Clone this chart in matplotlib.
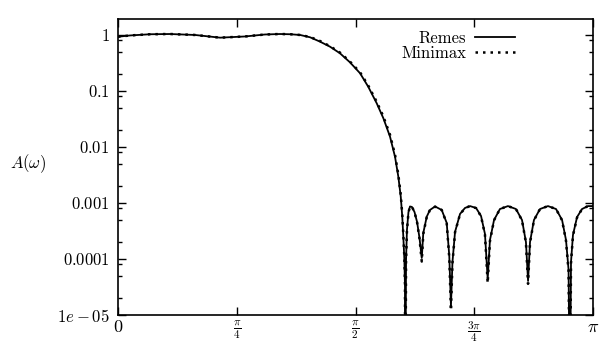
import numpy as np
import matplotlib
matplotlib.use("Agg")
import matplotlib.pyplot as plt
from matplotlib.ticker import FixedLocator, NullFormatter

plt.rcParams['mathtext.fontset'] = 'cm'
plt.rcParams['font.family'] = ['cmr10', 'DejaVu Serif']
plt.rcParams['axes.formatter.use_mathtext'] = True

# ---- data (omega in rad, amplitude) ----
omega = [0.000, 0.079, 0.212, 0.344, 0.509, 0.675, 0.840, 0.972, 1.071, 1.140, 1.204,
         1.270, 1.336, 1.402, 1.468, 1.534, 1.601, 1.655, 1.711, 1.755, 1.799,
         1.832, 1.854, 1.870, 1.880, 1.887, 1.894, 1.898, 1.900,
         1.905, 1.911, 1.921, 1.931, 1.944, 1.961, 1.978, 1.994, 2.009,
         2.019, 2.042, 2.063, 2.097, 2.141, 2.174, 2.191, 2.202,
         2.212, 2.229, 2.262, 2.295, 2.328, 2.368, 2.401, 2.427, 2.445,
         2.460, 2.487, 2.526, 2.579, 2.632, 2.672, 2.698, 2.712,
         2.725, 2.751, 2.791, 2.844, 2.897, 2.937, 2.963, 2.980, 2.989,
         2.996, 3.009, 3.036, 3.069, 3.108, 3.1416]

remes = [0.93, 0.98, 1.03, 1.04, 1.00, 0.895, 0.94, 1.02, 1.04, 1.03, 1.00,
         0.91, 0.76, 0.618, 0.471, 0.325, 0.207, 0.119, 0.0603, 0.0326, 0.0153,
         0.0067, 0.00295, 0.0013, 5.7e-4, 2.5e-4, 9.6e-5, 3.2e-5, 1e-7,
         9.6e-5, 3.3e-4, 6.9e-4, 8.66e-4, 8.5e-4, 6.9e-4, 4.58e-4, 2.37e-4, 1.04e-4,
         2.91e-4, 5.7e-4, 7.5e-4, 8.66e-4, 7.5e-4, 4.4e-4, 1.13e-4, 1.45e-5,
         8.8e-5, 3.03e-4, 6.37e-4, 8.15e-4, 8.8e-4, 8.15e-4, 5.86e-4, 2.8e-4, 4.4e-5,
         2.18e-4, 4.97e-4, 7.8e-4, 8.8e-4, 7.8e-4, 4.97e-4, 2.01e-4, 4.05e-5,
         2.01e-4, 4.97e-4, 7.8e-4, 8.8e-4, 7.8e-4, 4.97e-4, 2.18e-4, 6.4e-5, 1e-7,
         8.8e-5, 2.68e-4, 5.6e-4, 7.8e-4, 8.8e-4, 8.8e-4]

minimax = [0.93, 0.98, 1.03, 1.04, 1.00, 0.895, 0.94, 1.02, 1.04, 1.03, 1.00,
           0.92, 0.78, 0.63, 0.485, 0.335, 0.215, 0.125, 0.064, 0.035, 0.0165,
           0.0073, 0.0032, 0.0014, 6.2e-4, 2.7e-4, 1.05e-4, 3.5e-5, 1e-7,
           9.0e-5, 3.2e-4, 6.8e-4, 8.6e-4, 8.5e-4, 6.9e-4, 4.5e-4, 2.3e-4, 9.0e-5,
           2.8e-4, 5.6e-4, 7.5e-4, 8.6e-4, 7.5e-4, 4.3e-4, 1.05e-4, 1.2e-5,
           8.4e-5, 3.0e-4, 6.3e-4, 8.1e-4, 8.8e-4, 8.1e-4, 5.8e-4, 2.7e-4, 3.7e-5,
           2.1e-4, 4.9e-4, 7.8e-4, 8.8e-4, 7.8e-4, 4.9e-4, 1.95e-4, 3.6e-5,
           1.95e-4, 4.9e-4, 7.8e-4, 8.8e-4, 7.8e-4, 4.9e-4, 2.1e-4, 6.0e-5, 1e-7,
           8.4e-5, 2.6e-4, 5.5e-4, 7.8e-4, 8.8e-4, 8.8e-4]

xtick_vals = [0, np.pi / 4, np.pi / 2, 3 * np.pi / 4, np.pi]
xtick_labels = [r'$0$', r'$\frac{\pi}{4}$', r'$\frac{\pi}{2}$', r'$\frac{3\pi}{4}$', r'$\pi$']
ytick_vals = [1e-5, 1e-4, 1e-3, 1e-2, 1e-1, 1]
ytick_labels = [r'$1e-05$', r'$0.0001$', r'$0.001$', r'$0.01$', r'$0.1$', r'$1$']

fig = plt.figure(figsize=(6.04, 3.45), dpi=100)
ax = fig.add_axes([0.1954, 0.087, 0.7864, 0.858])

ax.plot(omega, remes, color='black', lw=1.3, label='Remes')
ax.plot(omega, minimax, color='black', lw=1.8, linestyle=(0, (1, 2.0)), label='Minimax')

ax.set_yscale('log')
ax.set_xlim(0, np.pi)

ax.set_xticks(xtick_vals)
ax.set_xticklabels(xtick_labels, fontsize=11.5)
for lbl in ax.get_xticklabels():
    if lbl.get_text() in (r'$0$', r'$\pi$'):
        lbl.set_fontsize(13)
ax.yaxis.set_major_locator(FixedLocator(ytick_vals))
ax.set_yticklabels(ytick_labels, fontsize=12)
minor = [m * 10.0 ** e for e in range(-6, 1) for m in (2, 5, 8)]
ax.yaxis.set_minor_locator(FixedLocator(minor))
ax.yaxis.set_minor_formatter(NullFormatter())
ax.set_ylim(1e-5, 1.93)

ax.tick_params(which='major', direction='in', length=5.5, width=1.0,
               top=True, right=True)
ax.tick_params(axis='y', which='major', pad=6)
ax.tick_params(axis='x', which='major', pad=3)
ax.tick_params(which='minor', direction='in', length=3, width=1.0,
               top=False, right=True)
ax.tick_params(axis='x', which='minor', bottom=False, top=False)
for s in ax.spines.values():
    s.set_linewidth(1.2)

ax.set_ylabel(r'$A(\omega)$', rotation=0, fontsize=12, ha='center', va='center')
ax.yaxis.set_label_coords(-0.19, 0.51)

leg = ax.legend(loc='upper right', bbox_to_anchor=(0.86, 1.0), frameon=False,
                markerfirst=False, fontsize=12, handlelength=2.4,
                handletextpad=0.5, labelspacing=0.0, borderaxespad=0.3)

fig.savefig('out.png', dpi=100)
